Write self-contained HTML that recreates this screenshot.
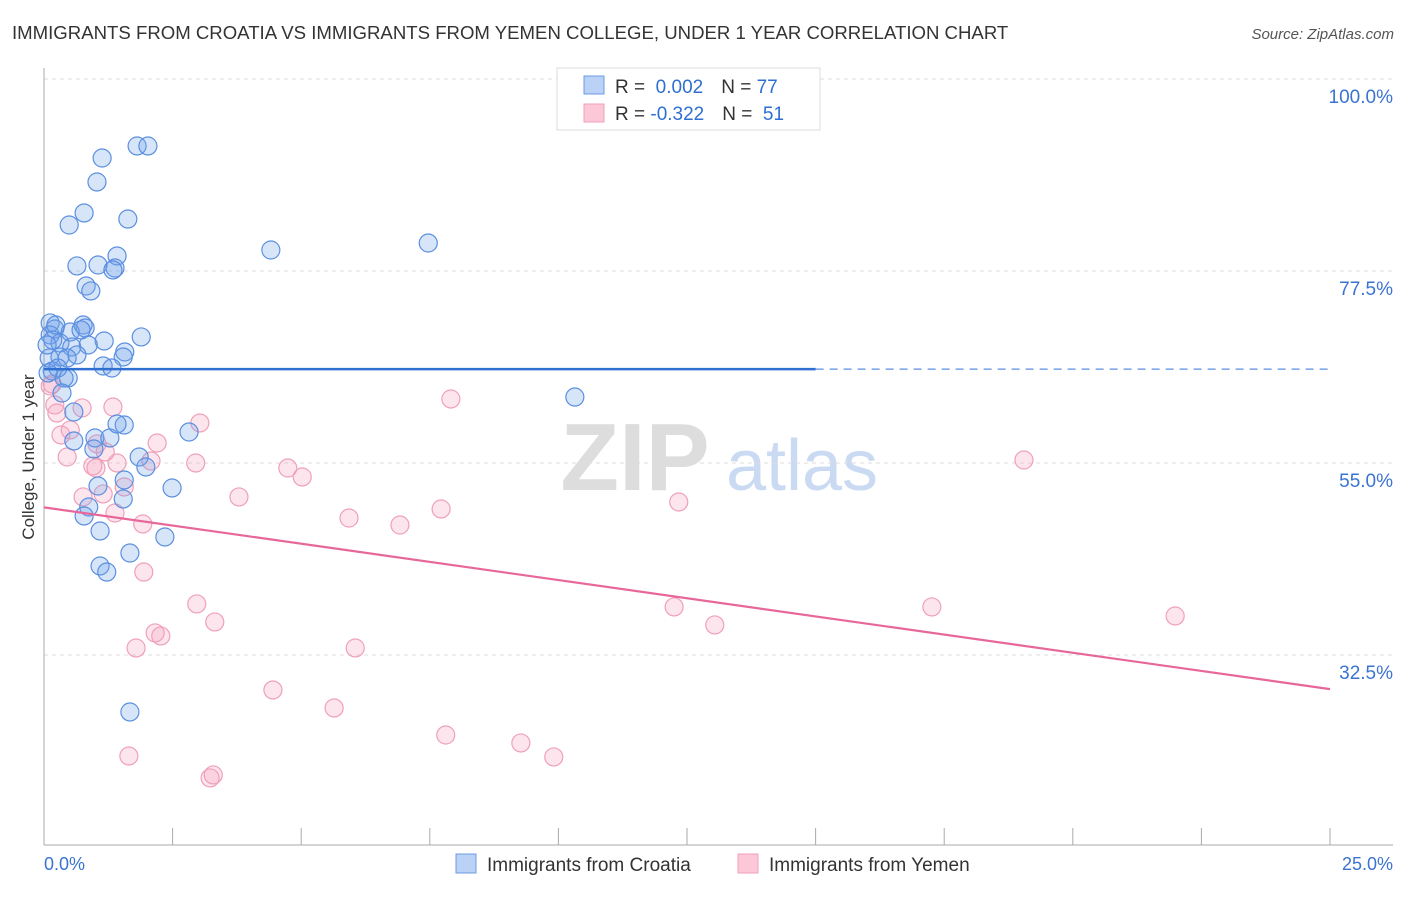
<!DOCTYPE html>
<html><head><meta charset="utf-8"><style>
body{margin:0;background:#fff;font-family:"Liberation Sans",sans-serif}
svg text{font-family:"Liberation Sans",sans-serif}
</style></head><body>
<svg id="chart" width="1406" height="892" xmlns="http://www.w3.org/2000/svg">
<text x="12" y="39" font-size="18.6" fill="#333">IMMIGRANTS FROM CROATIA VS IMMIGRANTS FROM YEMEN COLLEGE, UNDER 1 YEAR CORRELATION CHART</text>
<text x="1394" y="39" font-size="15" fill="#555" text-anchor="end" font-style="italic">Source: ZipAtlas.com</text>
<g>
<text x="635" y="490" font-size="96" fill="#ddd" text-anchor="middle" font-family="Liberation Serif" font-weight="bold">ZIP</text>
<text x="802" y="490" font-size="72" fill="#c9daf2" text-anchor="middle">atlas</text>
</g>
<g id="grid"></g>
<g id="axes"></g>
<g id="pts"></g>
<g id="trends"></g>
<text transform="translate(34,457) rotate(-90)" font-size="17" fill="#333" text-anchor="middle">College, Under 1 year</text>
<g>
<rect x="557" y="68" width="263" height="62" fill="#fff" stroke="#ddd"/>
<rect x="584" y="76" width="20" height="18" fill="#b9d2f5" stroke="#6a9be3"/>
<rect x="584" y="104" width="20" height="18" fill="#fcc8d7" stroke="#f0a0b8"/>
<text x="615" y="93" font-size="19" fill="#333">R = <tspan fill="#2f6fd1">&#160;0.002</tspan><tspan dx="18" fill="#333">N = </tspan><tspan fill="#2f6fd1">77</tspan></text>
<text x="615" y="120" font-size="19" fill="#333">R = <tspan fill="#2f6fd1">-0.322</tspan><tspan dx="18" fill="#333">N = </tspan><tspan fill="#2f6fd1">&#160;51</tspan></text>
</g>
<g>
<rect x="456" y="854" width="20" height="19" fill="#b9d2f5" stroke="#6a9be3"/>
<text x="487" y="871" font-size="19" fill="#333">Immigrants from Croatia</text>
<rect x="738" y="854" width="20" height="19" fill="#fcc8d7" stroke="#f0a0b8"/>
<text x="769" y="871" font-size="19" fill="#333">Immigrants from Yemen</text>
</g>
</svg>
<script>
const yTicks=[100,77.5,55,32.5];
const yTickLabels=["100.0%","77.5%","55.0%","32.5%"];
const xTicks=[0,2.5,5,7.5,10,12.5,15,17.5,20,22.5,25];
const xLabels=["0.0%","25.0%"];
const croatiaX=[1.81,2.02,1.13,1.03,0.78,0.49,1.63,4.41,7.47,0.64,1.05,1.42,1.38,1.34,0.82,0.91,0.12,0.21,0.76,0.80,1.89,1.17,0.12,0.31,0.54,0.86,0.64,1.57,1.54,0.10,0.31,0.45,1.15,1.32,0.16,0.47,0.39,10.32,0.35,0.58,0.58,0.99,1.28,1.56,1.42,0.97,2.82,1.85,1.98,2.49,1.05,1.56,1.54,0.87,0.78,1.09,2.35,1.67,1.09,1.22,1.67,0.17,0.27,0.06,0.51,0.23,0.08,0.72];
const croatiaY=[92.15,92.15,90.74,87.93,84.30,82.89,83.59,79.96,80.78,78.09,78.20,79.26,77.85,77.62,75.74,75.16,71.41,70.70,71.17,70.82,69.77,69.30,70.00,69.06,68.59,68.83,67.66,68.01,67.42,67.30,67.42,67.30,66.37,66.13,65.78,64.96,64.96,62.73,63.20,60.98,57.58,57.93,57.93,59.45,59.57,56.64,58.63,55.70,54.53,52.07,52.30,53.01,50.78,49.84,48.79,47.03,46.33,44.45,42.93,42.22,25.82,69.41,66.13,68.83,70.35,71.17,65.55,70.59];
const yemenX=[0.16,0.21,0.25,0.74,1.34,0.51,0.45,0.33,1.03,1.19,0.95,3.03,2.20,2.08,1.42,1.01,1.56,0.76,1.15,1.38,1.92,2.95,3.79,4.74,5.02,7.91,5.93,6.92,7.72,12.34,19.05,1.94,2.97,3.32,2.16,2.27,1.79,6.05,12.25,13.04,17.26,21.99,4.45,5.64,7.81,9.27,9.91,1.65,3.23,3.29,0.12];
const yemenY=[64.26,61.80,60.86,61.45,61.56,58.87,55.70,58.28,57.23,56.29,54.65,59.69,57.34,55.23,55.00,54.41,52.19,51.02,51.37,49.14,47.85,55.00,51.02,54.41,53.36,62.50,48.55,47.73,49.61,50.43,55.35,42.22,38.48,36.37,35.08,34.73,33.32,33.32,38.13,36.02,38.13,37.07,28.40,26.29,23.12,22.19,20.55,20.66,18.09,18.44,64.02];
const croatiaTrend=[66.0,66.0];
const yemenTrend=[49.8,28.5];
const NS="http://www.w3.org/2000/svg";
const sx=v=>44+v*51.44;
const sy=v=>79+(100-v)*8.533;
function mk(tag,attrs,parent){const e=document.createElementNS(NS,tag);for(const k in attrs)e.setAttribute(k,attrs[k]);parent.appendChild(e);return e;}
const grid=document.getElementById('grid'),axes=document.getElementById('axes'),pts=document.getElementById('pts'),tr=document.getElementById('trends');
yTicks.forEach((t,i)=>{
 const l=mk('line',{x1:44,x2:1393,y1:sy(t),y2:sy(t),stroke:'#ddd','stroke-dasharray':'4,4'},grid);
 
 
 const tx=mk('text',{x:1393,y:sy(t)+24,'font-size':19,fill:'#3b73d1','text-anchor':'end'},axes);
 tx.textContent=yTickLabels[i];
 
 
});
mk('line',{x1:44,x2:44,y1:68,y2:845,stroke:'#aaa'},axes);
mk('line',{x1:44,x2:1393,y1:845,y2:845,stroke:'#aaa'},axes);
xTicks.forEach(t=>{
 const l=mk('line',{x1:sx(t),x2:sx(t),y1:828,y2:845,stroke:'#aaa'},axes);
 
 
});
const x0=mk('text',{x:44,y:870,'font-size':18,fill:'#3b73d1'},axes);x0.textContent=xLabels[0];


const x1=mk('text',{x:1393,y:870,'font-size':18,fill:'#3b73d1','text-anchor':'end'},axes);x1.textContent=xLabels[1];


yemenX.forEach((v,i)=>{
 const c=mk('circle',{cx:sx(v),cy:sy(yemenY[i]),r:9,fill:'rgba(245,160,190,0.28)',stroke:'#f0a0b8','stroke-width':1.2},pts);
 
 
});
croatiaX.forEach((v,i)=>{
 const c=mk('circle',{cx:sx(v),cy:sy(croatiaY[i]),r:9,fill:'rgba(110,160,235,0.28)',stroke:'#5b8fe0','stroke-width':1.2},pts);
 
 
});
const cAt=x=>croatiaTrend[0]+(croatiaTrend[1]-croatiaTrend[0])*x/25;
const a=mk('line',{x1:sx(0),y1:sy(cAt(0)),x2:sx(15),y2:sy(cAt(15)),stroke:'#2f6fd1','stroke-width':2.5},tr);


const b=mk('line',{x1:sx(15),y1:sy(cAt(15)),x2:sx(25),y2:sy(cAt(25)),stroke:'#5b8fe0','stroke-width':1.2,'stroke-dasharray':'8,6'},tr);


const p=mk('line',{x1:sx(0),y1:sy(yemenTrend[0]),x2:sx(25),y2:sy(yemenTrend[1]),stroke:'#e8679a','stroke-width':2.2},tr);


</script>
</body></html>
